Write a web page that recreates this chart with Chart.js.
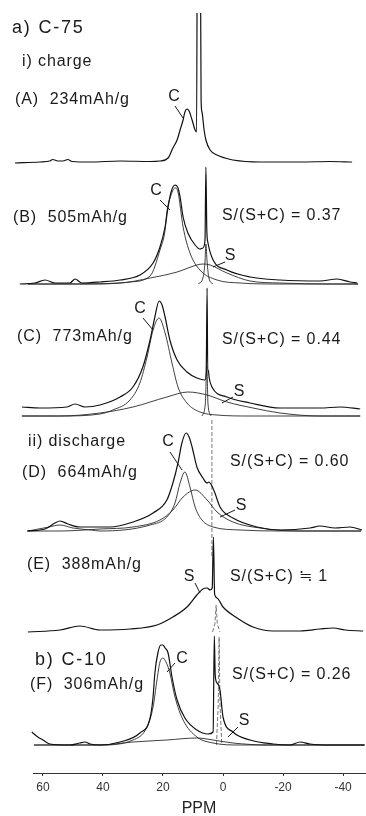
<!DOCTYPE html>
<html>
<head>
<meta charset="utf-8">
<script src="https://cdn.jsdelivr.net/npm/chart.js@4.4.1/dist/chart.umd.min.js"></script>
<style>
  html, body { margin: 0; padding: 0; background: #fff; }
  canvas { display: block; }
</style>
</head>
<body>
<canvas id="nmrChart" width="366" height="816"></canvas>
<script>
// ---- data: [ppm, intensity] ----
const ppmTicks = [60, 40, 20, 0, -20, -40];
const panelIds = ['A', 'B', 'C', 'D', 'E', 'F'];
const capacities = [234, 505, 773, 664, 388, 306]; // mAh/g
const ratioText = [null, '= 0.37', '= 0.44', '= 0.60', '≒ 1', '= 0.26'];

const envelopeA = [[69.3,-1],[61,0],[57.7,1],[56.7,2.5],[55,1],[53.3,1],[51.7,2.5],[50.3,0.5],[44.3,0],[34.3,1],[24.3,0.5],[21,1],[18.3,4],[16.7,14],[15.3,22],[14.3,32],[13.3,42],[12.7,50],[12,53],[11.3,51],[10.3,42],[9.3,32],[8.8,30],[8.5,300],[7.7,300],[7.3,62],[7,50],[6.3,32],[5.7,22],[4.3,12],[2,7],[-0.7,4],[-3.3,2],[-12.3,0],[-25.7,0],[-35.7,0.5],[-43,0]];

const envelopeB = [[67.7,0],[62.7,1],[59.3,4],[56,1],[51,1],[49.3,5],[47,1],[41,2],[34.3,4],[27.7,9],[23.3,21],[21,37],[19.3,57],[18.3,77],[17.3,92],[16,99],[15,96],[14.3,87],[13.3,67],[11.7,51],[9.3,39],[7.7,35],[6.7,36],[6,44],[5.7,117],[5.4,54],[5,41],[3.3,24],[-1.3,14],[-9,7],[-19,4],[-32.3,3],[-38,5],[-42.3,2],[-44.7,1]];
const carbonB = [[65,0],[41,0],[31,2],[24.3,8],[21,34],[19.3,54],[18.7,72],[17.3,89],[16,96],[15,92],[13.3,57],[11,31],[7.7,14],[2,4],[-5.7,1],[-19,0],[-45,0]];
const siteB = [[65,0],[54.3,0],[34.3,1],[24.3,6],[15.3,12],[8.7,19],[6.7,20],[4.3,19],[-1.3,11],[-9,3],[-19,1],[-35.7,0],[-45,0]];
const narrowB = [[8.3,0],[6.7,6],[6,22],[5.7,40],[5.3,22],[4.7,6],[3.3,0]];

const envelopeC = [[67,9],[61,8],[52,9],[49.3,12],[46,9],[41,11],[34.3,19],[30,29],[26.7,49],[24.3,76],[22.7,99],[21.3,115],[20.3,111],[19.3,99],[17.7,76],[15.3,56],[12,44],[8.7,38],[6,36],[5.6,44],[5.3,128],[5.1,46],[4.9,46],[4.6,38],[3.7,29],[-1.3,19],[-9,13],[-19,8],[-32.3,8],[-39,9],[-45.7,7]];
const carbonC = [[67,0],[54.3,0],[41,2],[36.7,6],[31,16],[27.7,33],[25.3,59],[23.3,86],[21.3,98],[19.3,83],[17,53],[15,29],[12,13],[7.7,4],[2,1],[-9,0],[-45.7,0]];
const siteC = [[67,0],[54.3,0],[41,3],[30,9],[18.7,19],[11.7,24],[5.3,21],[-1.3,14],[-10,8],[-19,3],[-32.3,0],[-45.7,0]];
const narrowC = [[7,0],[5.9,12],[5.4,50],[5,12],[4,0]];

const envelopeD = [[65.3,0],[59.3,2],[56,8],[54.3,10],[51.7,7],[47.7,4],[37.7,4],[30,9],[23.3,18],[18.7,31],[16.7,48],[15,68],[13.7,88],[12.3,98],[11.3,94],[10.3,84],[8.7,64],[6.7,53],[5.3,48],[4.7,49],[3.7,45],[2.7,38],[1,24],[-3.3,13],[-11.3,4],[-19,1],[-29,3],[-32.3,5],[-37.3,3],[-42.3,4],[-46.3,1]];
const carbonD = [[65,0],[58,4],[54.3,6],[50,3],[44,1],[41,0],[24.3,6],[18.7,14],[16,28],[14.3,48],[12.7,59],[11,44],[9.3,24],[7,11],[3.3,4],[-5.7,1],[-19,0],[-46,0]];
const siteD = [[65,0],[54.3,0],[41,2],[30,4],[21,11],[16.7,21],[13.3,34],[9.3,41],[5.3,31],[2,19],[-3.3,9],[-12.3,3],[-25.7,0],[-46,0]];
const markerD = [[3.7,111],[3.7,-26]];

const envelopeE = [[65,0],[54.3,2],[47.7,6],[41,2],[31,3],[22,7],[16.7,15],[12,25],[8.7,37],[6.7,43],[5.3,44],[4.3,42],[3.6,44],[3.2,95],[2.8,38],[2,34],[0,25],[-4.7,14],[-10,5],[-16.7,1],[-25.7,1],[-32.3,3],[-36.7,4],[-40.7,2],[-46.7,1]];
const narrowE = [[3.5,0],[2.7,8],[2.3,27],[1.9,8],[1,0]];

const envelopeF = [[63.7,13],[61.7,8],[60,5],[57.7,1],[51,0],[47.7,2],[46,3],[44.3,1],[41,0],[34.3,3],[27.7,12],[24.3,27],[23.3,48],[22.7,72],[21.7,92],[20.7,100],[20,100],[19.3,97],[18.3,92],[17,68],[15.3,45],[12.7,27],[8.7,15],[5,11],[3.3,13],[2.9,109],[2.6,70],[2,62],[1,55],[0.3,35],[0,28],[-3.3,13],[-9,5],[-16.7,1],[-22.3,0],[-25.7,3],[-29,1],[-35.7,0],[-47.3,0]];
const carbonF = [[63,0],[41,0],[30,5],[25.3,18],[23.3,38],[22,65],[21,83],[20,87],[19,83],[17.7,72],[16,48],[13.3,25],[8.7,8],[3.3,2],[-5.7,0],[-47,0]];
const siteF = [[63,0],[41,0],[30,3],[18.7,5],[8.7,7],[3.3,5],[-3.3,2],[-14.7,0],[-47,0]];
const narrowF = [[2.2,0],[1.6,40],[1.3,108],[1,40],[0.4,0]];

// ---- layout (pixels / y units) ----
const baseY = [611, 489, 357, 242, 141, 28];
const capPos = [[15,100],[13,218],[17,337],[22,473],[27,565],[30,685]];
const ratioPos = [null,[222,216],[222,340],[230,462],[230,577],[232,675]];
const headings = [['a) C-75',12,28,18],['i) charge',22,62,16],['ii) discharge',28,442,16],['b) C-10',35,660,18]];
const peakTags = [
  ['C',174,97, 175,106,183,118],
  ['C',156,191, 160,200,170,210],
  ['S',230,256, 225,262,213,267],
  ['C',140,309, 143,318,153,330],
  ['S',239,392, 233,397,222,403],
  ['C',168,442, 170,452,182,470],
  ['S',241,506, 235,510,220,517],
  ['S',189,577, 195,583,200,593],
  ['C',182,659, 175,663,167,672],
  ['S',244,721, 238,727,228,737]
];

const spectra = [
  [envelopeA, 0, 'env'],
  [envelopeB, 1, 'env'], [carbonB, 1, 'cmp'], [siteB, 1, 'cmp'], [narrowB, 1, 'cmp'],
  [envelopeC, 2, 'env'], [carbonC, 2, 'cmp'], [siteC, 2, 'cmp'], [narrowC, 2, 'cmp'],
  [envelopeD, 3, 'env'], [carbonD, 3, 'cmp'], [siteD, 3, 'cmp'], [markerD, 3, 'dash'],
  [envelopeE, 4, 'env'], [narrowE, 4, 'dash'],
  [envelopeF, 5, 'env'], [carbonF, 5, 'cmp'], [siteF, 5, 'cmp'], [narrowF, 5, 'dash']
];

const styles = {
  env: { borderColor: '#111', borderWidth: 1.2, borderDash: [] },
  cmp: { borderColor: '#2a2a2a', borderWidth: 0.9, borderDash: [] },
  dash: { borderColor: '#555', borderWidth: 0.8, borderDash: [4, 2] }
};

const datasets = spectra.map(([pts, panel, kind]) => ({
  data: pts.map(([x, h]) => ({ x: x, y: baseY[panel] + h })),
  showLine: true,
  pointRadius: 0,
  fill: false,
  cubicInterpolationMode: kind === 'dash' ? 'default' : 'monotone',
  tension: 0,
  clip: { left: 25, top: 0, right: 5, bottom: 30 },
  ...styles[kind]
}));

const FONT = '"Liberation Sans", Arial, sans-serif';

const textLayer = {
  id: 'textLayer',
  afterDatasetsDraw(chart) {
    const ctx = chart.ctx;
    ctx.save();
    ctx.fillStyle = '#1a1a1a';
    ctx.strokeStyle = '#1a1a1a';
    ctx.lineWidth = 1;
    ctx.textBaseline = 'middle';
    ctx.textAlign = 'left';

    headings.forEach(([t, x, y, size]) => {
      ctx.font = size + 'px ' + FONT;
      ctx.letterSpacing = size > 16 ? '1.8px' : '0.9px';
      ctx.fillText(t, x, y);
    });

    ctx.font = '16px ' + FONT;
    ctx.letterSpacing = '0.9px';
    panelIds.forEach((id, i) => {
      ctx.fillText('(' + id + ')  ' + capacities[i] + 'mAh/g', capPos[i][0], capPos[i][1]);
      if (ratioText[i]) {
        ctx.fillText('S/(S+C) ' + ratioText[i], ratioPos[i][0], ratioPos[i][1]);
      }
    });

    ctx.textAlign = 'center';
    ctx.letterSpacing = '0px';
    peakTags.forEach(([t, x, y, x1, y1, x2, y2]) => {
      ctx.fillText(t, x, y);
      ctx.beginPath();
      ctx.moveTo(x1, y1);
      ctx.lineTo(x2, y2);
      ctx.stroke();
    });
    ctx.restore();
  }
};

new Chart(document.getElementById('nmrChart'), {
  type: 'scatter',
  data: { datasets: datasets },
  options: {
    responsive: false,
    devicePixelRatio: 1,
    animation: false,
    events: [],
    layout: { padding: { left: 33, right: 1, top: 13, bottom: 0 } },
    plugins: { legend: { display: false }, tooltip: { enabled: false } },
    scales: {
      x: {
        type: 'linear',
        reverse: true,
        min: -47.3,
        max: 63.3,
        afterBuildTicks: (s) => { s.ticks = ppmTicks.map(v => ({ value: v })); },
        afterFit: (s) => { s.height = 43; },
        grid: { drawOnChartArea: false, tickLength: 3, color: '#333' },
        border: { color: '#333', width: 1 },
        ticks: { color: '#333', padding: 4, maxRotation: 0, autoSkip: false, font: { size: 12, family: FONT } },
        title: { display: true, text: 'PPM', color: '#222', padding: { top: 0, bottom: -2 }, font: { size: 16, family: FONT } }
      },
      y: { display: false, min: 0, max: 760 }
    }
  },
  plugins: [textLayer]
});
</script>
</body>
</html>
